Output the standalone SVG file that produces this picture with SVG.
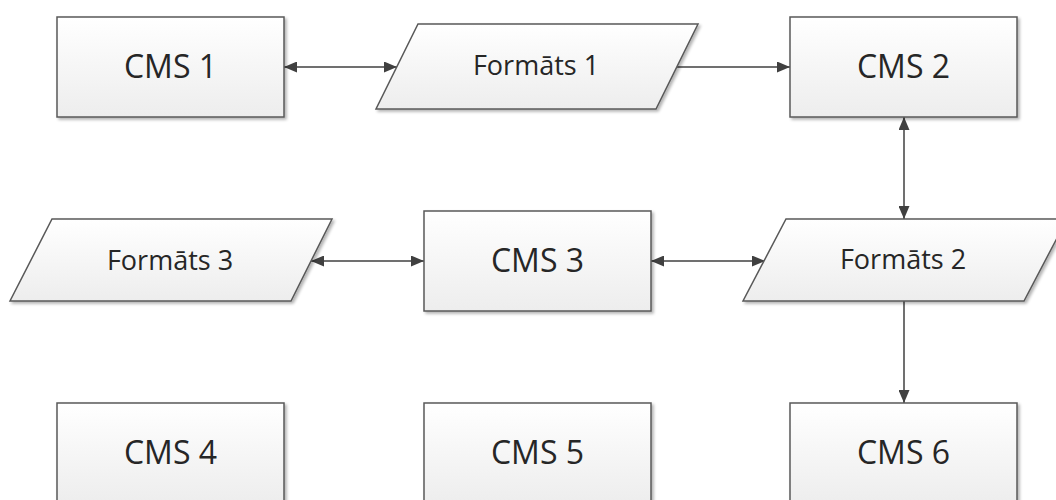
<svg xmlns="http://www.w3.org/2000/svg" width="1056" height="500" viewBox="0 0 1056 500">
<defs>
<linearGradient id="g" x1="0" y1="0" x2="0" y2="1">
<stop offset="0" stop-color="#ffffff"/>
<stop offset="1" stop-color="#ededed"/>
</linearGradient>
<filter id="sh" x="-10%" y="-10%" width="130%" height="130%">
<feGaussianBlur in="SourceAlpha" stdDeviation="1.5"/>
<feOffset dx="2" dy="2" result="b"/>
<feComponentTransfer><feFuncA type="linear" slope="0.3"/></feComponentTransfer>
<feMerge><feMergeNode/><feMergeNode in="SourceGraphic"/></feMerge>
</filter>
<marker id="ah" viewBox="0 0 13 11" refX="13" refY="5.5" markerWidth="13" markerHeight="11" markerUnits="userSpaceOnUse" orient="auto-start-reverse">
<path d="M0,0 L13,5.5 L0,11 z" fill="#404040"/>
</marker>
</defs>
<style>
.n{fill:url(#g);stroke:#595959;stroke-width:1.5;filter:url(#sh)}
.c{font-family:"Open Sans","Liberation Sans",sans-serif;font-size:32px;fill:#262626;text-anchor:middle}
.f{font-family:"Open Sans","Liberation Sans",sans-serif;font-size:27px;fill:#262626;text-anchor:middle}
.e{stroke:#404040;stroke-width:1.5;fill:none}
</style>
<rect width="1056" height="500" fill="#ffffff"/>
<g id="edges">
<line class="e" x1="284" y1="67" x2="397" y2="67" marker-start="url(#ah)" marker-end="url(#ah)"/>
<line class="e" x1="677" y1="67" x2="790" y2="67" marker-end="url(#ah)"/>
<line class="e" x1="904" y1="117" x2="904" y2="219" marker-start="url(#ah)" marker-end="url(#ah)"/>
<line class="e" x1="311" y1="261" x2="424" y2="261" marker-start="url(#ah)" marker-end="url(#ah)"/>
<line class="e" x1="651" y1="261" x2="765" y2="261" marker-start="url(#ah)" marker-end="url(#ah)"/>
<line class="e" x1="904" y1="301" x2="904" y2="403" marker-end="url(#ah)"/>
</g>
<g id="cms1"><rect class="n" x="57" y="17" width="227" height="100"/><text class="c" x="170.5" y="78">CMS 1</text></g>
<g id="formats1"><polygon class="n" points="418,24 698,24 656,109 376,109"/><text class="f" x="536" y="75">Formāts 1</text></g>
<g id="cms2"><rect class="n" x="790" y="17" width="227" height="100"/><text class="c" x="903.5" y="78">CMS 2</text></g>
<g id="formats3"><polygon class="n" points="52,219 332,219 291,301 10,301"/><text class="f" x="170" y="270">Formāts 3</text></g>
<g id="cms3"><rect class="n" x="424" y="211" width="227" height="100"/><text class="c" x="537.5" y="272">CMS 3</text></g>
<g id="formats2"><polygon class="n" points="786,219 1067,219 1024,301 743,301"/><text class="f" x="903" y="269">Formāts 2</text></g>
<g id="cms4"><rect class="n" x="57" y="403" width="227" height="100"/><text class="c" x="170.5" y="464">CMS 4</text></g>
<g id="cms5"><rect class="n" x="424" y="403" width="227" height="100"/><text class="c" x="537.5" y="464">CMS 5</text></g>
<g id="cms6"><rect class="n" x="790" y="403" width="227" height="100"/><text class="c" x="903.5" y="464">CMS 6</text></g>
</svg>
